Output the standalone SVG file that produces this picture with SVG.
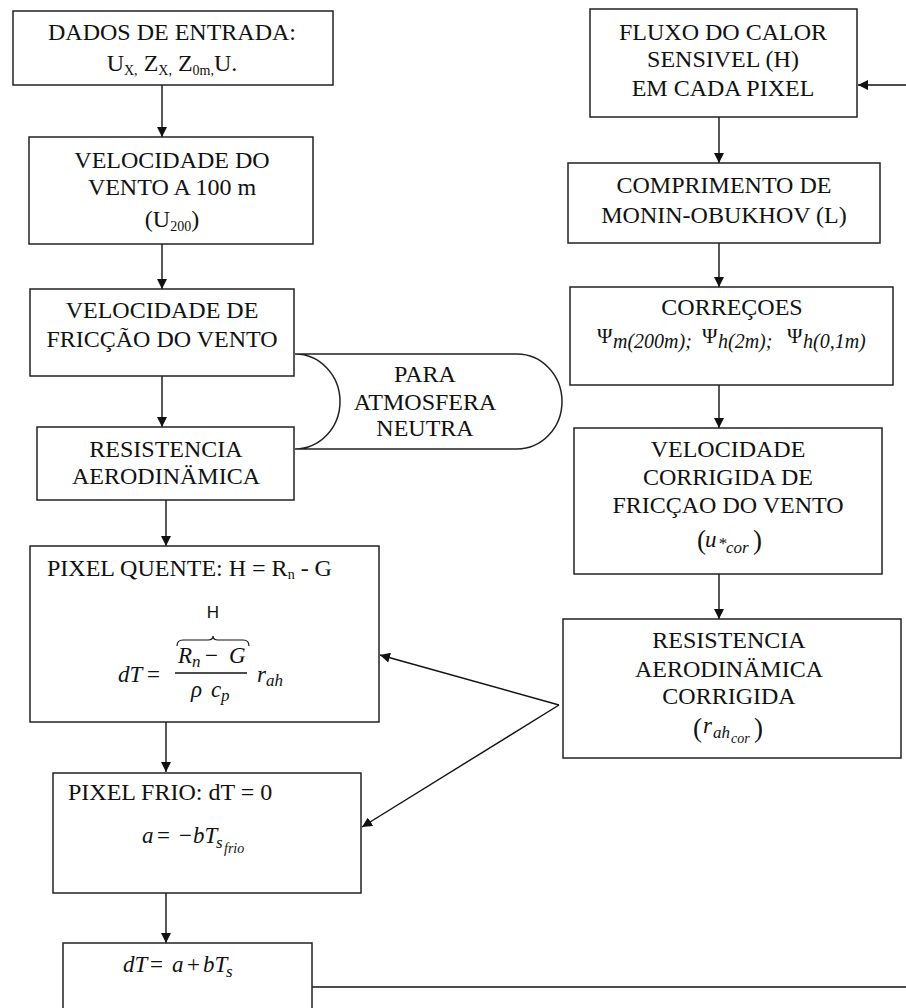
<svg xmlns="http://www.w3.org/2000/svg" width="906" height="1008" viewBox="0 0 906 1008">
<style>
.box{fill:#fff;stroke:#222;stroke-width:1.5}
.t{font-family:"Liberation Serif","Times New Roman",serif;font-size:24px;fill:#111;text-anchor:middle}
.tl{font-family:"Liberation Serif","Times New Roman",serif;font-size:24px;fill:#111}
.sub{font-size:14px}
.m{font-family:"Liberation Serif","Times New Roman",serif;font-style:italic;font-size:23px;fill:#111}
.mn{font-family:"Liberation Serif","Times New Roman",serif;font-style:normal;font-size:23px;fill:#111}
.ms{font-family:"Liberation Serif","Times New Roman",serif;font-style:italic;font-size:17px;fill:#111}
.mss{font-family:"Liberation Serif","Times New Roman",serif;font-style:italic;font-size:14px;fill:#111}
.psi{font-family:"Liberation Serif","Times New Roman",serif;font-size:21px;fill:#111}
.psis{font-family:"Liberation Serif","Times New Roman",serif;font-style:italic;font-size:20px;fill:#111}
.conn line,.conn path{stroke:#111;stroke-width:1.4;fill:none}
</style>
<defs>
<marker id="ah" markerWidth="10" markerHeight="10" refX="10" refY="5" orient="auto" markerUnits="userSpaceOnUse">
<path d="M0,0 L10,5 L0,10 z" fill="#111"/>
</marker>
</defs>
<rect width="906" height="1008" fill="#fff"/>

<g id="conns" class="conn">
<line x1="162" y1="85" x2="162" y2="137" marker-end="url(#ah)"/>
<line x1="162" y1="244" x2="162" y2="289" marker-end="url(#ah)"/>
<line x1="162" y1="376" x2="162" y2="427" marker-end="url(#ah)"/>
<line x1="166" y1="500" x2="166" y2="546" marker-end="url(#ah)"/>
<line x1="166" y1="722" x2="166" y2="772" marker-end="url(#ah)"/>
<line x1="166" y1="893" x2="166" y2="943" marker-end="url(#ah)"/>
<line x1="719" y1="117" x2="719" y2="163" marker-end="url(#ah)"/>
<line x1="719" y1="243" x2="719" y2="287" marker-end="url(#ah)"/>
<line x1="719" y1="385" x2="719" y2="428" marker-end="url(#ah)"/>
<line x1="719" y1="574" x2="719" y2="619" marker-end="url(#ah)"/>
<line x1="559" y1="705" x2="380" y2="655" marker-end="url(#ah)"/>
<line x1="559" y1="705" x2="362" y2="827" marker-end="url(#ah)"/>
<line x1="312" y1="987" x2="906" y2="987"/>
<line x1="906" y1="85" x2="858" y2="85" marker-end="url(#ah)"/>
</g>

<g id="dados">
<rect class="box" x="13" y="11" width="320" height="74"/>
<text class="t" x="172" y="40">DADOS DE ENTRADA:</text>
<text class="t" x="172" y="71">U<tspan class="sub" dy="4">X,</tspan><tspan dy="-4"> Z</tspan><tspan class="sub" dy="4">X,</tspan><tspan dy="-4"> Z</tspan><tspan class="sub" dy="4">0m,</tspan><tspan dy="-4">U.</tspan></text>
</g>

<g id="vel100">
<rect class="box" x="29" y="137" width="284" height="107"/>
<text class="t" x="172" y="168">VELOCIDADE DO</text>
<text class="t" x="172" y="195">VENTO A 100 m</text>
<text class="t" x="172" y="227">(U<tspan class="sub" dy="4">200</tspan><tspan dy="-4">)</tspan></text>
</g>

<g id="velfric">
<rect class="box" x="30" y="289" width="264" height="87"/>
<text class="t" x="162" y="318">VELOCIDADE DE</text>
<text class="t" x="162" y="347">FRICÇÃO DO VENTO</text>
</g>

<g id="resist">
<rect class="box" x="37" y="427" width="257" height="73"/>
<text class="t" x="166" y="457">RESISTENCIA</text>
<text class="t" x="166" y="484">AERODINÄMICA</text>
</g>

<g id="neutra">
<path class="box" d="M295,354 L517,354 A45,47.5 0 0 1 517,449 L295,449 A45,47.5 0 0 0 295,354 Z"/>
<text class="t" x="425" y="382">PARA</text>
<text class="t" x="425" y="410">ATMOSFERA</text>
<text class="t" x="425" y="436">NEUTRA</text>
</g>

<g id="quente">
<rect class="box" x="30" y="546" width="349" height="176"/>
<text class="tl" x="47" y="576">PIXEL QUENTE: H = R<tspan class="sub" dy="3">n</tspan><tspan dy="-3"> - G</tspan></text>
<text x="213" y="618" style="font-family:'Liberation Sans',Arial,sans-serif;font-size:17px;fill:#111;text-anchor:middle">H</text>
<path d="M177,646 Q177,640 183,640 L208,640 Q213,640 213,636 Q213,640 218,640 L243,640 Q249,640 249,646" fill="none" stroke="#111" stroke-width="1.2"/>
<text class="m" x="178" y="663">R</text>
<text class="ms" x="192" y="667">n</text>
<text class="mn" x="205" y="663">−</text>
<text class="m" x="229" y="663">G</text>
<line x1="175" y1="673" x2="247" y2="673" stroke="#111" stroke-width="1.3"/>
<text class="m" x="118" y="682">dT</text>
<text class="mn" x="147" y="682">=</text>
<text class="m" x="191" y="697">ρ</text>
<text class="m" x="211" y="697">c</text>
<text class="ms" x="221" y="701">p</text>
<text class="m" x="257" y="682">r</text>
<text class="ms" x="266" y="686">ah</text>
</g>

<g id="frio">
<rect class="box" x="53" y="773" width="308" height="120"/>
<text class="tl" x="68" y="800">PIXEL FRIO: dT = 0</text>
<text class="m" x="142" y="843">a</text>
<text class="mn" x="157" y="843">=</text>
<text class="mn" x="179" y="843">−</text>
<text class="m" x="193" y="843">bT</text>
<text class="ms" x="216" y="848">s</text>
<text class="mss" x="224" y="853">frio</text>
</g>

<g id="final">
<rect class="box" x="63" y="943" width="249" height="90"/>
<text class="m" x="123" y="972">dT</text>
<text class="mn" x="150" y="972">=</text>
<text class="m" x="172" y="972">a</text>
<text class="mn" x="187" y="972">+</text>
<text class="m" x="203" y="972">bT</text>
<text class="ms" x="226" y="977">s</text>
</g>

<g id="fluxo">
<rect class="box" x="590" y="9" width="267" height="108"/>
<text class="t" x="723" y="40">FLUXO DO CALOR</text>
<text class="t" x="723" y="67">SENSIVEL (H)</text>
<text class="t" x="723" y="96">EM CADA PIXEL</text>
</g>

<g id="monin">
<rect class="box" x="568" y="163" width="312" height="80"/>
<text class="t" x="724" y="193">COMPRIMENTO DE</text>
<text class="t" x="724" y="223">MONIN-OBUKHOV (L)</text>
</g>

<g id="correcoes">
<rect class="box" x="570" y="287" width="323" height="98"/>
<text class="t" x="732" y="315">CORREÇOES</text>
<text class="psi" x="597" y="343">Ψ</text>
<text class="psis" x="613" y="348">m(200m);</text>
<text class="psi" x="702" y="343">Ψ</text>
<text class="psis" x="718" y="348">h(2m);</text>
<text class="psi" x="787" y="343">Ψ</text>
<text class="psis" x="803" y="348">h(0,1m)</text>
</g>

<g id="velcorr">
<rect class="box" x="574" y="428" width="308" height="146"/>
<text class="t" x="728" y="457">VELOCIDADE</text>
<text class="t" x="728" y="485">CORRIGIDA DE</text>
<text class="t" x="728" y="513">FRICÇAO DO VENTO</text>
<text class="mn" x="697" y="549" style="font-size:27px">(</text>
<text class="m" x="705" y="547">u</text>
<text class="ms" x="718" y="549">*</text>
<text class="ms" x="726" y="553">cor</text>
<text class="mn" x="753" y="549" style="font-size:27px">)</text>
</g>

<g id="rescorr">
<rect class="box" x="563" y="619" width="338" height="139"/>
<text class="t" x="729" y="648">RESISTENCIA</text>
<text class="t" x="729" y="677">AERODINÄMICA</text>
<text class="t" x="729" y="704">CORRIGIDA</text>
<text class="mn" x="693" y="737" style="font-size:27px">(</text>
<text class="m" x="703" y="733">r</text>
<text class="ms" x="713" y="738">ah</text>
<text class="mss" x="731" y="743">cor</text>
<text class="mn" x="754" y="737" style="font-size:27px">)</text>
</g>
</svg>
